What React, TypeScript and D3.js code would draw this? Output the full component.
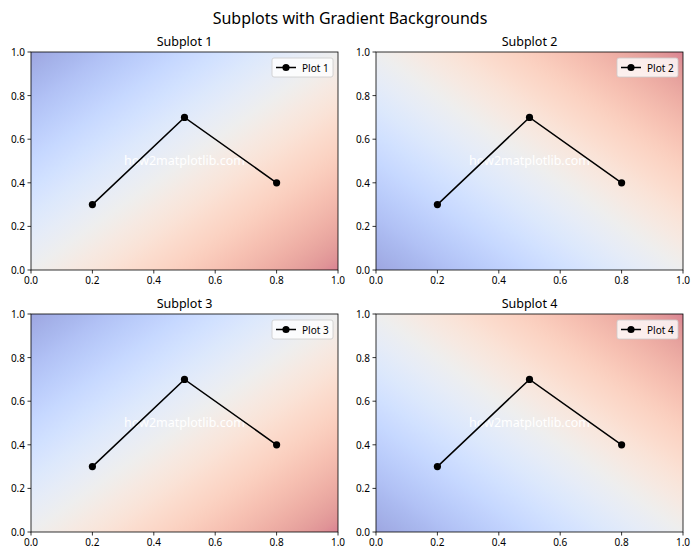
import React from "react";
import * as d3 from "d3";

const titles = ["Subplot 1", "Subplot 2", "Subplot 3", "Subplot 4"];
const legendLabels = ["Plot 1", "Plot 2", "Plot 3", "Plot 4"];
const xValues = [0.2, 0.5, 0.8];
const yValues = [0.3, 0.7, 0.4];
const tickValues = [0, 0.2, 0.4, 0.6, 0.8, 1.0];
// gradient direction: 1 = blue top-left -> red bottom-right, 2 = blue bottom-left -> red top-right
const gradientKinds = [1, 2, 1, 2];

// matplotlib coolwarm control colours
const coolwarm = [
  [59, 76, 192], [68, 90, 204], [77, 104, 215], [87, 117, 225], [98, 130, 234],
  [108, 142, 241], [119, 154, 247], [130, 165, 251], [141, 176, 254], [152, 185, 255],
  [163, 194, 255], [174, 201, 253], [184, 208, 249], [194, 213, 244], [204, 217, 238],
  [213, 219, 230], [221, 221, 221], [229, 216, 209], [236, 211, 197], [241, 204, 184],
  [245, 196, 172], [247, 187, 159], [247, 177, 147], [247, 166, 134], [244, 154, 123],
  [241, 141, 111], [236, 127, 99], [229, 112, 88], [222, 96, 77], [213, 80, 66],
  [203, 62, 56], [192, 40, 47], [180, 4, 38],
];

const W = 700;
const H = 560;
const panelLefts = [31, 376];
const panelTops = [52, 314];
const pw = 307;
const ph = 218;
const font = "'Noto Sans', 'DejaVu Sans', sans-serif";

function blend(c: number[]) {
  const a = 0.5;
  return d3.rgb(c[0] * a + 255 * (1 - a), c[1] * a + 255 * (1 - a), c[2] * a + 255 * (1 - a)).formatHex();
}

function Panel({ idx }: { idx: number }) {
  const left = panelLefts[idx % 2];
  const top = panelTops[Math.floor(idx / 2)];
  const x = d3.scaleLinear().domain([0, 1]).range([left, left + pw]);
  const y = d3.scaleLinear().domain([0, 1]).range([top + ph, top]);
  const line = d3.line<number>().x((_, i) => x(xValues[i])).y((d) => y(d));
  const gid = `grad${idx}`;
  const kind = gradientKinds[idx];
  const stops = coolwarm.map((c, i) => ({ off: i / (coolwarm.length - 1), col: blend(c) }));
  const lx = left + pw - 66;
  const ly = top + 6;
  return (
    <g>
      <defs>
        <linearGradient
          id={gid}
          x1="0" y1={kind === 1 ? "0" : "1"}
          x2="1" y2={kind === 1 ? "1" : "0"}
        >
          {stops.map((s, i) => (
            <stop key={i} offset={s.off} stopColor={s.col} />
          ))}
        </linearGradient>
      </defs>
      <rect x={left} y={top} width={pw} height={ph} fill={`url(#${gid})`} />
      <text x={x(0.5)} y={y(0.5) - 1} textAnchor="middle" dominantBaseline="central" fill="#fff" fontSize={12.5} fontFamily={font}>
        how2matplotlib.com
      </text>
      <path d={line(yValues) || ""} fill="none" stroke="#000" strokeWidth={1.5} />
      {yValues.map((v, i) => (
        <circle key={i} cx={x(xValues[i])} cy={y(v)} r={3.6} fill="#000" />
      ))}
      {/* legend */}
      <rect x={lx} y={ly} width={61} height={19} rx={2} fill="#fff" fillOpacity={0.8} stroke="#ccc" strokeWidth={0.8} />
      <line x1={lx + 4} x2={lx + 24} y1={ly + 9.5} y2={ly + 9.5} stroke="#000" strokeWidth={1.5} />
      <circle cx={lx + 14} cy={ly + 9.5} r={3.6} fill="#000" />
      <text x={lx + 30} y={ly + 9.5} dominantBaseline="central" fontSize={10} fontFamily={font} fill="#000">
        {legendLabels[idx]}
      </text>
      {/* spines */}
      <rect x={left} y={top} width={pw} height={ph} fill="none" stroke="#000" strokeWidth={0.8} />
      {/* x ticks */}
      {tickValues.map((t) => (
        <g key={"x" + t}>
          <line x1={x(t)} x2={x(t)} y1={top + ph} y2={top + ph + 3.5} stroke="#000" strokeWidth={0.8} />
          <text x={x(t)} y={top + ph + 5} textAnchor="middle" dominantBaseline="hanging" fontSize={10} fontFamily={font} fill="#000">
            {t.toFixed(1)}
          </text>
        </g>
      ))}
      {/* y ticks */}
      {tickValues.map((t) => (
        <g key={"y" + t}>
          <line x1={left - 3.5} x2={left} y1={y(t)} y2={y(t)} stroke="#000" strokeWidth={0.8} />
          <text x={left - 6} y={y(t)} textAnchor="end" dominantBaseline="central" fontSize={10} fontFamily={font} fill="#000">
            {t.toFixed(1)}
          </text>
        </g>
      ))}
      <text x={left + pw / 2} y={top - 6} textAnchor="middle" fontSize={12.5} fontFamily={font} fill="#000">
        {titles[idx]}
      </text>
    </g>
  );
}

export default function App() {
  return (
    <svg width={W} height={H} style={{ position: "absolute", left: 0, top: 0, background: "#fff" }}>
      <rect width={W} height={H} fill="#fff" />
      <text x={W / 2} y={24} textAnchor="middle" fontSize={16} fontFamily={font} fill="#000">
        Subplots with Gradient Backgrounds
      </text>
      {[0, 1, 2, 3].map((i) => (
        <Panel key={i} idx={i} />
      ))}
    </svg>
  );
}
